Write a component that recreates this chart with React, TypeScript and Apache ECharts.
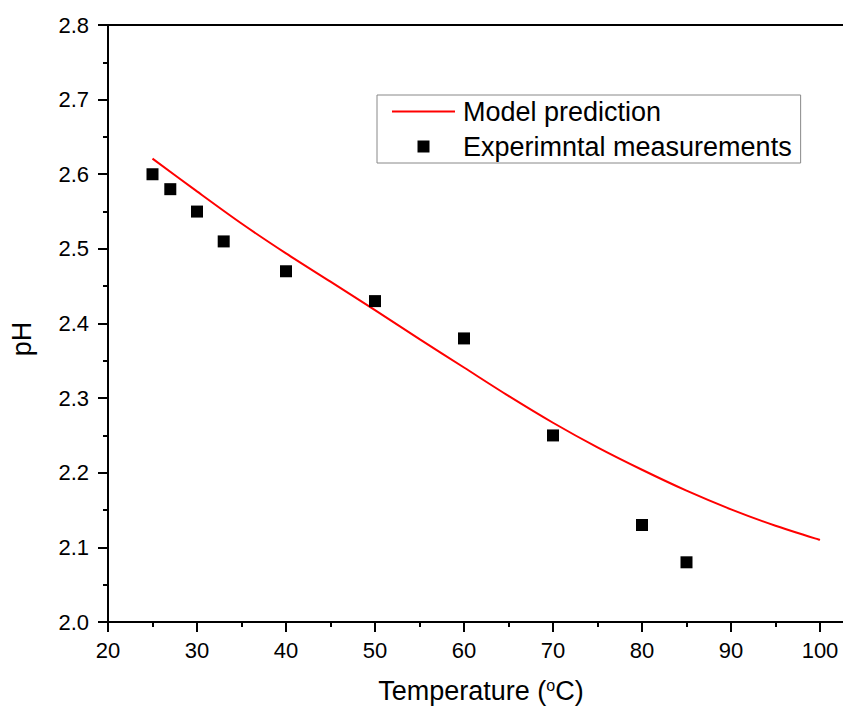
import React, { useEffect, useRef } from "react";
import * as echarts from "echarts";

const modelTemps = [25, 30, 35, 40, 45, 50, 55, 60, 65, 70, 75, 80, 85, 90, 95, 100];
const modelPH = [2.621, 2.577, 2.534, 2.494, 2.456, 2.418, 2.379, 2.341, 2.303, 2.267, 2.234, 2.204, 2.176, 2.151, 2.129, 2.11];
const expTemps = [25, 27, 30, 33, 40, 50, 60, 70, 80, 85];
const expPH = [2.6, 2.58, 2.55, 2.51, 2.47, 2.43, 2.38, 2.25, 2.13, 2.08];

const FONT = "'Liberation Sans', Arial, sans-serif";

export default function App() {
  const ref = useRef<HTMLDivElement>(null);
  useEffect(() => {
    if (!ref.current) return;
    const chart = echarts.init(ref.current, undefined, { renderer: "svg" });
    const axisCommon = {
      axisLine: { show: true, onZero: false, lineStyle: { color: "#000", width: 2 } },
      axisTick: { show: true, inside: false, length: 10, lineStyle: { color: "#000", width: 2 } },
      minorTick: { show: true, splitNumber: 2, length: 5, lineStyle: { color: "#000", width: 2 } },
      splitLine: { show: false },
      minorSplitLine: { show: false },
    };
    chart.setOption({
      animation: false,
      backgroundColor: "#fff",
      textStyle: { fontFamily: FONT },
      grid: {
        left: 108,
        top: 25,
        right: 51,
        bottom: 84,
        show: true,
        borderColor: "#000",
        borderWidth: 2,
        containLabel: false,
      },
      xAxis: {
        type: "value",
        min: 20,
        max: 110,
        interval: 10,
        ...axisCommon,
        axisLabel: {
          color: "#000",
          fontSize: 22,
          fontFamily: FONT,
          margin: 17,
          formatter: (v: number) => (v <= 100 ? String(v) : ""),
        },
      },
      yAxis: {
        type: "value",
        min: 2.0,
        max: 2.8,
        interval: 0.1,
        ...axisCommon,
        axisLabel: {
          color: "#000",
          fontSize: 22,
          fontFamily: FONT,
          margin: 19,
          formatter: (v: number) => v.toFixed(1),
        },
      },
      legend: {
        orient: "vertical",
        left: 377,
        top: 95,
        padding: [3, 9, 3, 15],
        itemGap: 8,
        itemWidth: 63,
        itemHeight: 12,
        borderColor: "#888",
        borderWidth: 1,
        backgroundColor: "#fff",
        textStyle: { color: "#000", fontSize: 27, fontFamily: FONT, padding: [0, 0, 0, 3] },
        data: [
          { name: "Model prediction", icon: "path://M0,0H63V2H0Z" },
          { name: "Experimntal measurements", icon: "path://M0,0H10V10H0Z" },
        ],
      },
      graphic: [
        {
          type: "text",
          x: 22,
          y: 339,
          rotation: Math.PI / 2,
          style: {
            text: "pH",
            font: `27px ${FONT}`,
            fill: "#000",
            textAlign: "center",
            textVerticalAlign: "middle",
          },
        },
        {
          type: "text",
          x: 481,
          y: 691,
          style: {
            text: "Temperature ({s|o}C)",
            font: `27px ${FONT}`,
            fill: "#000",
            textAlign: "center",
            textVerticalAlign: "middle",
            rich: {
              s: { fontSize: 16, fontFamily: FONT, verticalAlign: "top", padding: [0, 0, 10, 0] },
            },
          },
        },
      ],
      series: [
        {
          name: "Model prediction",
          type: "line",
          data: modelTemps.map((t, i) => [t, modelPH[i]]),
          smooth: 0.3,
          showSymbol: false,
          symbol: "none",
          lineStyle: { color: "#ff0000", width: 2 },
          itemStyle: { color: "#ff0000" },
          z: 3,
        },
        {
          name: "Experimntal measurements",
          type: "scatter",
          data: expTemps.map((t, i) => [t, expPH[i]]),
          symbol: "rect",
          symbolSize: 12,
          itemStyle: { color: "#000", opacity: 1 },
          z: 4,
        },
      ],
    });
    return () => chart.dispose();
  }, []);
  return (
    <div
      style={{
        position: "absolute",
        left: 0,
        top: 0,
        width: 843,
        height: 706,
        overflow: "hidden",
        background: "#fff",
      }}
    >
      <div ref={ref} style={{ width: 960, height: 706 }} />
    </div>
  );
}
